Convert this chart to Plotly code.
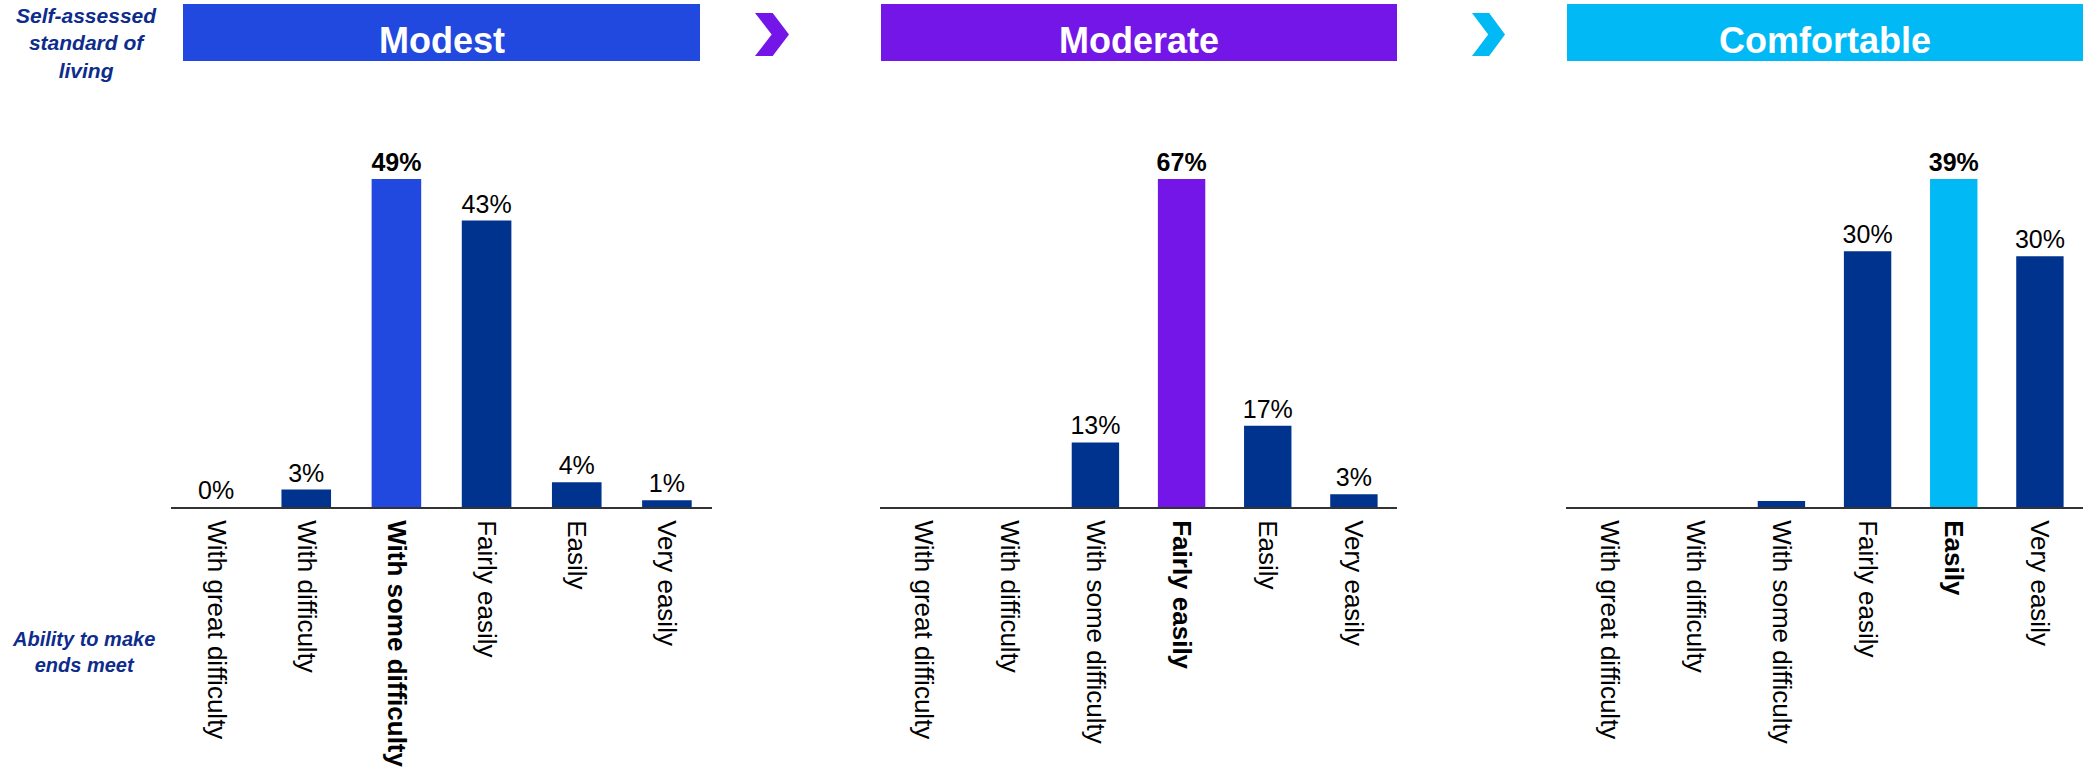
import plotly.graph_objects as go

# ---------------- data ----------------
categories = ["With great difficulty", "With difficulty", "With some difficulty",
              "Fairly easily", "Easily", "Very easily"]

panel_titles = ["Modest", "Moderate", "Comfortable"]

modest_values = [0.0, 2.6, 49.0, 42.8, 3.7, 1.0]
moderate_values = [0.0, 0.0, 13.2, 67.0, 16.6, 2.6]
comfortable_values = [0.0, 0.0, 0.7, 30.4, 39.0, 29.8]

modest_show_label = [True, True, True, True, True, True]
moderate_show_label = [False, False, True, True, True, True]
comfortable_show_label = [False, False, False, True, True, True]

modest_highlight = "With some difficulty"
moderate_highlight = "Fairly easily"
comfortable_highlight = "Easily"

left_top_text = "Self-assessed<br>standard of<br>living"
left_bottom_text = "Ability to make<br>ends meet"

# ---------------- styles ----------------
W, H = 2083, 772
DARK = "#00338D"
panel_colors = ["#2149E0", "#7416E8", "#00B9F5"]
LABEL_BLUE = "#0D2C8C"
FONT = "Liberation Sans, Arial, sans-serif"

# pixel layout (full-size reference)
x_domains_px = [(171, 712), (880, 1397), (1566, 2083)]
header_px = [(183, 700), (881, 1397), (1567, 2083)]
header_y_px = (4, 61)
axis_y_px = 507
top_y_px = 179
chevrons_px = [(755, 789, "#7416E8"), (1472, 1505, "#00B9F5")]
chev_y_px = (13, 56)


def px_x(x):
    return x / W


def px_y(y):
    return 1 - y / H


panels = [
    (modest_values, modest_show_label, modest_highlight),
    (moderate_values, moderate_show_label, moderate_highlight),
    (comfortable_values, comfortable_show_label, comfortable_highlight),
]

fig = go.Figure()
layout_axes = {}
shapes = []
annotations = []

for i, (vals, show, hl) in enumerate(panels):
    n = "" if i == 0 else str(i + 1)
    colors = [panel_colors[i] if c == hl else DARK for c in categories]
    texts = []
    for c, v, s in zip(categories, vals, show):
        if not s:
            texts.append("")
        elif c == hl:
            texts.append(f"<b>{round(v)}%</b>")
        else:
            texts.append(f"{round(v)}%")
    fig.add_trace(go.Bar(
        x=categories, y=vals, text=texts, textposition="outside",
        textfont=dict(family=FONT, size=25, color="#000000"),
        constraintext="none", cliponaxis=False,
        marker=dict(color=colors, line=dict(width=0)),
        width=0.55, xaxis="x" + n, yaxis="y" + n, showlegend=False,
        hoverinfo="x+y",
    ))
    ticktext = [f"<b>{c}</b>" if c == hl else c for c in categories]
    d0, d1 = x_domains_px[i]
    layout_axes["xaxis" + n] = dict(
        domain=[px_x(d0), px_x(d1)], anchor="y" + n, type="category",
        categoryorder="array", categoryarray=categories,
        tickmode="array", tickvals=categories, ticktext=ticktext,
        tickangle=90, tickfont=dict(family=FONT, size=26, color="#000000"),
        showline=True, linecolor="#333333", linewidth=2, showgrid=False,
        zeroline=False, ticks="", ticklabelstandoff=6, fixedrange=True,
    )
    layout_axes["yaxis" + n] = dict(
        domain=[px_y(axis_y_px), px_y(top_y_px)], anchor="x" + n,
        range=[0, max(vals)], visible=False, showgrid=False, zeroline=False,
        fixedrange=True,
    )
    # header box
    h0, h1 = header_px[i]
    shapes.append(dict(type="rect", xref="paper", yref="paper",
                       x0=px_x(h0), x1=px_x(h1), y0=px_y(header_y_px[1]), y1=px_y(header_y_px[0]),
                       fillcolor=panel_colors[i], line=dict(width=0), layer="below"))
    annotations.append(dict(text=f"<b>{panel_titles[i]}</b>", xref="paper", yref="paper",
                            x=px_x((h0 + h1) / 2), y=px_y(41),
                            xanchor="center", yanchor="middle", showarrow=False,
                            font=dict(family=FONT, size=36, color="#FFFFFF")))

for (cx0, cx1, col) in chevrons_px:
    w = cx1 - cx0
    yt, yb = chev_y_px
    ym = (yt + yb) / 2
    pts = [(cx0, yt), (cx0 + 0.52 * w, yt), (cx1, ym), (cx0 + 0.52 * w, yb), (cx0, yb), (cx0 + 0.49 * w, ym)]
    path = "M " + " L ".join(f"{px_x(x):.5f},{px_y(y):.5f}" for x, y in pts) + " Z"
    shapes.append(dict(type="path", xref="paper", yref="paper", path=path,
                       fillcolor=col, line=dict(width=0)))

annotations.append(dict(text=f"<b><i>{left_top_text}</i></b>", xref="paper", yref="paper",
                        x=px_x(86), y=px_y(43), xanchor="center", yanchor="middle",
                        showarrow=False, align="center",
                        font=dict(family=FONT, size=21, color=LABEL_BLUE)))
annotations.append(dict(text=f"<b><i>{left_bottom_text}</i></b>", xref="paper", yref="paper",
                        x=px_x(83), y=px_y(652), xanchor="center", yanchor="middle",
                        showarrow=False, align="center",
                        font=dict(family=FONT, size=20, color=LABEL_BLUE)))

fig.update_layout(
    width=W, height=H, autosize=False,
    margin=dict(l=0, r=0, t=0, b=0, pad=0),
    paper_bgcolor="#FFFFFF", plot_bgcolor="#FFFFFF",
    shapes=shapes, annotations=annotations, bargap=0.45,
    **layout_axes,
)

fig.write_html("out.html", config={"displayModeBar": False},
               post_script="document.body.style.margin='0';")
